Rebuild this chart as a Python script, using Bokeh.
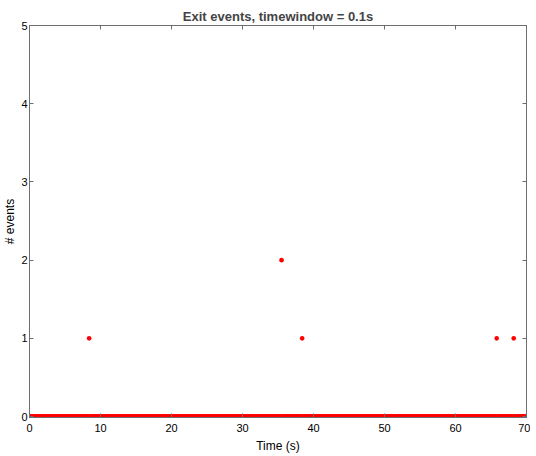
import numpy as np
from bokeh.plotting import figure
from bokeh.models import LinearAxis, Range1d, FixedTicker, ColumnDataSource
from bokeh.embed import file_html
from bokeh.resources import INLINE

# --- data ---
timewindow = 0.1
t_end = 70.0
event_times = [8.4, 35.5, 38.4, 65.8, 68.2]
event_counts = [1, 2, 1, 1, 1]
x_ticks = [0, 10, 20, 30, 40, 50, 60, 70]
y_ticks = [0, 1, 2, 3, 4, 5]

bins = np.round(np.arange(0, t_end + 1e-9, timewindow), 1)
counts = np.zeros(len(bins))
for t, c in zip(event_times, event_counts):
    counts[np.argmin(np.abs(bins - t))] = c

src = ColumnDataSource(dict(x=bins, y=counts))

FONT = "Liberation Sans"
AX = "#6e6e6e"

p = figure(width=530, height=455, output_backend="svg", toolbar_location=None,
           x_range=Range1d(0, 70), y_range=Range1d(-0.012, 5),
           title="Exit events, timewindow = 0.1s",
           min_border_left=0, min_border_right=4, min_border_top=25, min_border_bottom=38)
p.title.align = "center"
p.title.text_font = FONT
p.title.text_font_size = "13px"
p.title.text_font_style = "bold"
p.title.standoff = 4
p.grid.visible = False
p.outline_line_color = AX
p.background_fill_color = "white"
p.border_fill_color = "white"

p.scatter("x", "y", source=src, size=4.6, color="#ff0000", line_color=None)

def style(ax, labels=True):
    ax.axis_line_color = AX
    ax.major_tick_line_color = AX
    ax.major_tick_in = 4
    ax.major_tick_out = 0
    ax.minor_tick_in = 0
    ax.minor_tick_out = 0
    ax.minor_tick_line_color = None
    ax.major_label_text_font = FONT
    ax.major_label_text_font_size = "11px" if labels else "1px"
    ax.major_label_text_color = "black" if labels else None
    ax.major_label_standoff = 4 if labels else 0
    ax.axis_label_text_font = FONT
    ax.axis_label_text_font_size = "12px"
    ax.axis_label_text_font_style = "normal"
    ax.axis_label_text_color = "black"
    ax.axis_label_standoff = 3

p.xaxis.ticker = FixedTicker(ticks=x_ticks)
p.yaxis.ticker = FixedTicker(ticks=y_ticks)
p.xaxis.axis_label = "Time (s)"
p.yaxis.axis_label = "# events"
style(p.xaxis[0])
style(p.yaxis[0])
p.xaxis.major_label_standoff = 6
p.xaxis.axis_label_standoff = 4
p.yaxis.major_label_standoff = 2
p.yaxis.axis_label_standoff = 1

top = LinearAxis(ticker=FixedTicker(ticks=x_ticks))
right = LinearAxis(ticker=FixedTicker(ticks=y_ticks))
style(top, labels=False)
style(right, labels=False)
p.add_layout(top, "above")
p.add_layout(right, "right")

open("out.html", "w").write(file_html(p, INLINE))
